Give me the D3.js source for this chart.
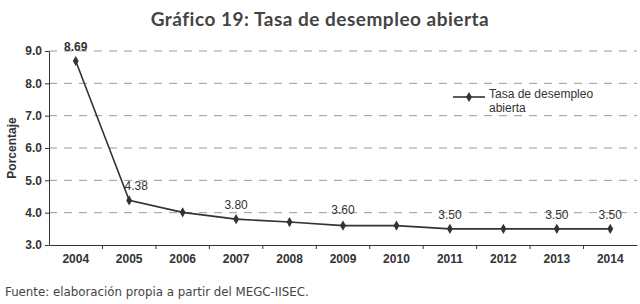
<!DOCTYPE html>
<html><head><meta charset="utf-8">
<script src="https://cdn.jsdelivr.net/npm/d3@7"></script>
<style>body{margin:0;background:#fff}svg{display:block}</style>
</head><body>
<svg id="c" width="640" height="304"></svg>
<script>
const years = ["2004","2005","2006","2007","2008","2009","2010","2011","2012","2013","2014"];
const rates = [8.69, 4.38, 4.01, 3.80, 3.71, 3.60, 3.60, 3.50, 3.50, 3.50, 3.50];
const labelled = ["2004","2005","2007","2009","2011","2013","2014"];
const yTicks = [3,4,5,6,7,8,9];
const title = "Gráfico 19: Tasa de desempleo abierta";
const source = "Fuente: elaboración propia a partir del MEGC-IISEC.";
const seriesName = ["Tasa de desempleo","abierta"];

const svg = d3.select("#c");
const L = 49, R = 637, T = 51, B = 245;
const x = d3.scaleBand().domain(years).range([L, R]);
const y = d3.scaleLinear().domain([3, 9]).range([B, T]);
const ink = "#333";
const af = "'Liberation Sans', Arial, sans-serif";

svg.append("text").attr("x", 320).attr("y", 26).attr("text-anchor","middle")
  .attr("font-family","Lato, 'Noto Sans', sans-serif").attr("font-weight","bold")
  .attr("font-size",19).attr("letter-spacing",0.5).attr("fill","#444").text(title);

// grid
svg.append("g").selectAll("line").data(yTicks.filter(d=>d>3)).join("line")
  .attr("x1", L).attr("x2", R).attr("y1", d=>y(d)).attr("y2", d=>y(d))
  .attr("stroke","#999").attr("stroke-width",1).attr("stroke-dasharray","8,7");

// y axis
const ya = svg.append("g").attr("transform",`translate(${L},0)`)
  .call(d3.axisLeft(y).tickValues(yTicks).tickFormat(d3.format(".1f")).tickSize(4).tickSizeOuter(0));
ya.select(".domain").attr("stroke",ink);
ya.selectAll(".tick line").attr("stroke",ink);
ya.selectAll("text").attr("font-family",af)
  .attr("font-weight","bold").attr("font-size",12).attr("fill",ink).attr("x",-7);

// x axis
const xa = svg.append("g").attr("transform",`translate(0,${B})`)
  .call(d3.axisBottom(x).tickSize(0).tickSizeOuter(0));
xa.select(".domain").attr("stroke",ink).attr("stroke-width",1.2);
xa.selectAll("text").attr("font-family",af)
  .attr("font-weight","bold").attr("font-size",12).attr("fill",ink).attr("dy","1.25em");
// band separators
svg.append("g").selectAll("line").data(years.slice(1)).join("line")
  .attr("x1", d=>x(d)).attr("x2", d=>x(d)).attr("y1", B).attr("y2", B+4)
  .attr("stroke",ink);

svg.append("text").attr("transform",`translate(16,${(T+B)/2}) rotate(-90)`)
  .attr("text-anchor","middle").attr("font-family",af)
  .attr("font-weight","bold").attr("font-size",12).attr("fill",ink).text("Porcentaje");

const cx = d => x(d) + x.bandwidth()/2;
const line = d3.line().x((d,i)=>cx(years[i])).y(d=>y(d));
svg.append("path").datum(rates).attr("d", line).attr("fill","none")
  .attr("stroke",ink).attr("stroke-width",1.6);

const diamond = d3.symbol().type(d3.symbolDiamond).size(30);
svg.append("g").selectAll("path").data(rates).join("path")
  .attr("d", diamond).attr("transform",(d,i)=>`translate(${cx(years[i])},${y(d)})`)
  .attr("fill",ink);

const lblOff = {"2004":[0,-10],"2005":[7,-10],"2007":[0,-10],"2009":[0,-12],"2011":[0,-10],"2013":[0,-10],"2014":[0,-10]};
svg.append("g").selectAll("text").data(years.map((yr,i)=>({yr,v:rates[i]})).filter(d=>labelled.includes(d.yr)))
  .join("text").attr("x", d=>cx(d.yr)+lblOff[d.yr][0]).attr("y", d=>y(d.v)+lblOff[d.yr][1])
  .attr("text-anchor","middle").attr("font-family",af).attr("font-weight", d=>d.yr==="2004"?"bold":"normal")
  .attr("font-size",12).attr("fill",ink).text(d=>d3.format(".2f")(d.v));

// legend
const lg = svg.append("g");
lg.append("line").attr("x1",453).attr("x2",485).attr("y1",97).attr("y2",97).attr("stroke",ink).attr("stroke-width",1.6);
lg.append("path").attr("d",diamond).attr("transform","translate(469,97)").attr("fill",ink);
lg.append("text").attr("x",489).attr("y",98).attr("font-family",af)
  .attr("font-size",12).attr("fill",ink).selectAll("tspan").data(seriesName).join("tspan")
  .attr("x",489).attr("dy",(d,i)=>i?14:0).text(d=>d);

svg.append("text").attr("x",5).attr("y",296).attr("font-family","'DejaVu Sans', sans-serif")
  .attr("font-size",11.8).attr("fill","#444").text(source);
</script>
</body></html>
